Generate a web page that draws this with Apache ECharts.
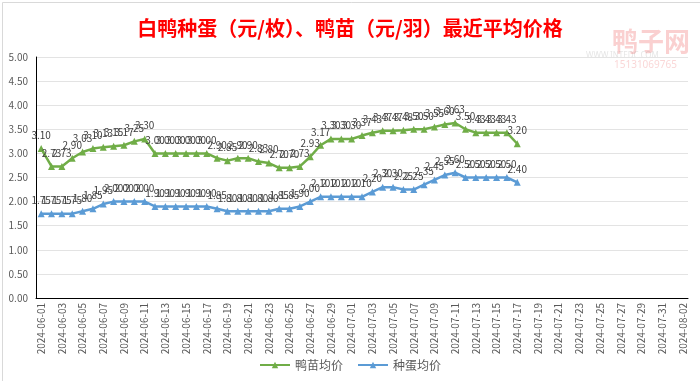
<!DOCTYPE html>
<html>
<head>
<meta charset="utf-8">
<script src="https://cdn.jsdelivr.net/npm/echarts@6/dist/echarts.min.js"></script>
<style>html,body{margin:0;padding:0;background:#fff;}#c{width:700px;height:381px;}</style>
</head>
<body>
<div id="c"></div>
<script>
var titleText = '白鸭种蛋（元/枚）、鸭苗（元/羽）最近平均价格';
var dates = [
 '2024-06-01','2024-06-02','2024-06-03','2024-06-04','2024-06-05','2024-06-06','2024-06-07','2024-06-08','2024-06-09','2024-06-10',
 '2024-06-11','2024-06-12','2024-06-13','2024-06-14','2024-06-15','2024-06-16','2024-06-17','2024-06-18','2024-06-19','2024-06-20',
 '2024-06-21','2024-06-22','2024-06-23','2024-06-24','2024-06-25','2024-06-26','2024-06-27','2024-06-28','2024-06-29','2024-06-30',
 '2024-07-01','2024-07-02','2024-07-03','2024-07-04','2024-07-05','2024-07-06','2024-07-07','2024-07-08','2024-07-09','2024-07-10',
 '2024-07-11','2024-07-12','2024-07-13','2024-07-14','2024-07-15','2024-07-16','2024-07-17','2024-07-18','2024-07-19','2024-07-20',
 '2024-07-21','2024-07-22','2024-07-23','2024-07-24','2024-07-25','2024-07-26','2024-07-27','2024-07-28','2024-07-29','2024-07-30',
 '2024-07-31','2024-08-01','2024-08-02'
];
var seriesNames = ['鸭苗均价', '种蛋均价'];
var duckling = [3.10,2.73,2.73,2.90,3.03,3.10,3.13,3.15,3.17,3.25,
 3.30,3.00,3.00,3.00,3.00,3.00,3.00,2.90,2.85,2.90,
 2.90,2.83,2.80,2.70,2.70,2.73,2.93,3.17,3.30,3.30,
 3.30,3.37,3.43,3.47,3.47,3.48,3.50,3.50,3.55,3.60,
 3.63,3.50,3.43,3.43,3.43,3.43,3.20];
var eggs = [1.75,1.75,1.75,1.75,1.80,1.85,1.95,2.00,2.00,2.00,
 2.00,1.90,1.90,1.90,1.90,1.90,1.90,1.85,1.80,1.80,
 1.80,1.80,1.80,1.85,1.85,1.90,2.00,2.10,2.10,2.10,
 2.10,2.10,2.20,2.30,2.30,2.25,2.25,2.35,2.45,2.55,
 2.60,2.50,2.50,2.50,2.50,2.50,2.40];
var yMin = 0, yMax = 5, yStep = 0.5;

var font = '"Noto Sans CJK SC","Noto Sans",sans-serif';
var chart = echarts.init(document.getElementById('c'));
function lineSeries(name, data, color) {
  return {
    name: name, type: 'line', data: data,
    symbol: 'triangle', symbolSize: 7, showAllSymbol: true,
    lineStyle: {color: color, width: 2.5},
    itemStyle: {color: color},
    label: {show: true, position: 'top', distance: 5, fontSize: 10, color: '#404040', fontFamily: font,
      formatter: function(p){ return p.value.toFixed(2); }},
    labelLayout: {hideOverlap: false},
    animation: false
  };
}
chart.setOption({
  backgroundColor: '#fff',
  animation: false,
  title: {text: titleText, left: 'center', top: 13,
    textStyle: {color: '#ff0000', fontSize: 20, fontWeight: 'bold', fontFamily: font}},
  graphic: [
    {type: 'rect', left: 0, top: 0, shape: {width: 699, height: 380}, style: {fill: 'none', stroke: '#d9d9d9', lineWidth: 1}, silent: true},
    {type: 'text', left: 612, top: 28, style: {text: '鸭子网', fill: 'rgba(240,120,120,0.35)', font: 'bold 26px "Noto Sans CJK SC"'}, silent: true, z: -1},
    {type: 'text', left: 614, top: 60, style: {text: '15131069765', fill: 'rgba(240,120,120,0.3)', font: '10px "Noto Sans"'}, silent: true, z: -1},
    {type: 'text', left: 586, top: 52, style: {text: 'WWW.INTEDC.COM', fill: 'rgba(150,150,150,0.25)', font: '8px "Noto Sans"'}, silent: true, z: -1}
  ],
  legend: {
    bottom: 5, left: 'center', itemWidth: 30, itemHeight: 8, itemGap: 14,
    textStyle: {color: '#595959', fontSize: 12, fontFamily: font},
    data: seriesNames
  },
  grid: {left: 36, right: 12, top: 57, bottom: 83},
  xAxis: {
    type: 'category', data: dates, boundaryGap: true,
    axisLine: {lineStyle: {color: '#000', width: 1}},
    axisTick: {show: false},
    axisLabel: {interval: 1, rotate: 90, fontSize: 10, color: '#595959', fontFamily: font, margin: 5}
  },
  yAxis: {
    type: 'value', min: yMin, max: yMax, interval: yStep,
    axisLine: {show: true, lineStyle: {color: '#000', width: 1}},
    axisTick: {show: false},
    axisLabel: {fontSize: 10, color: '#595959', fontFamily: font, margin: 8,
      formatter: function(v){ return v.toFixed(2); }},
    splitLine: {lineStyle: {color: '#e3e3e3', width: 1}}
  },
  series: [
    lineSeries(seriesNames[0], duckling, '#70AD47'),
    lineSeries(seriesNames[1], eggs, '#5B9BD5')
  ]
});
</script>
</body>
</html>
